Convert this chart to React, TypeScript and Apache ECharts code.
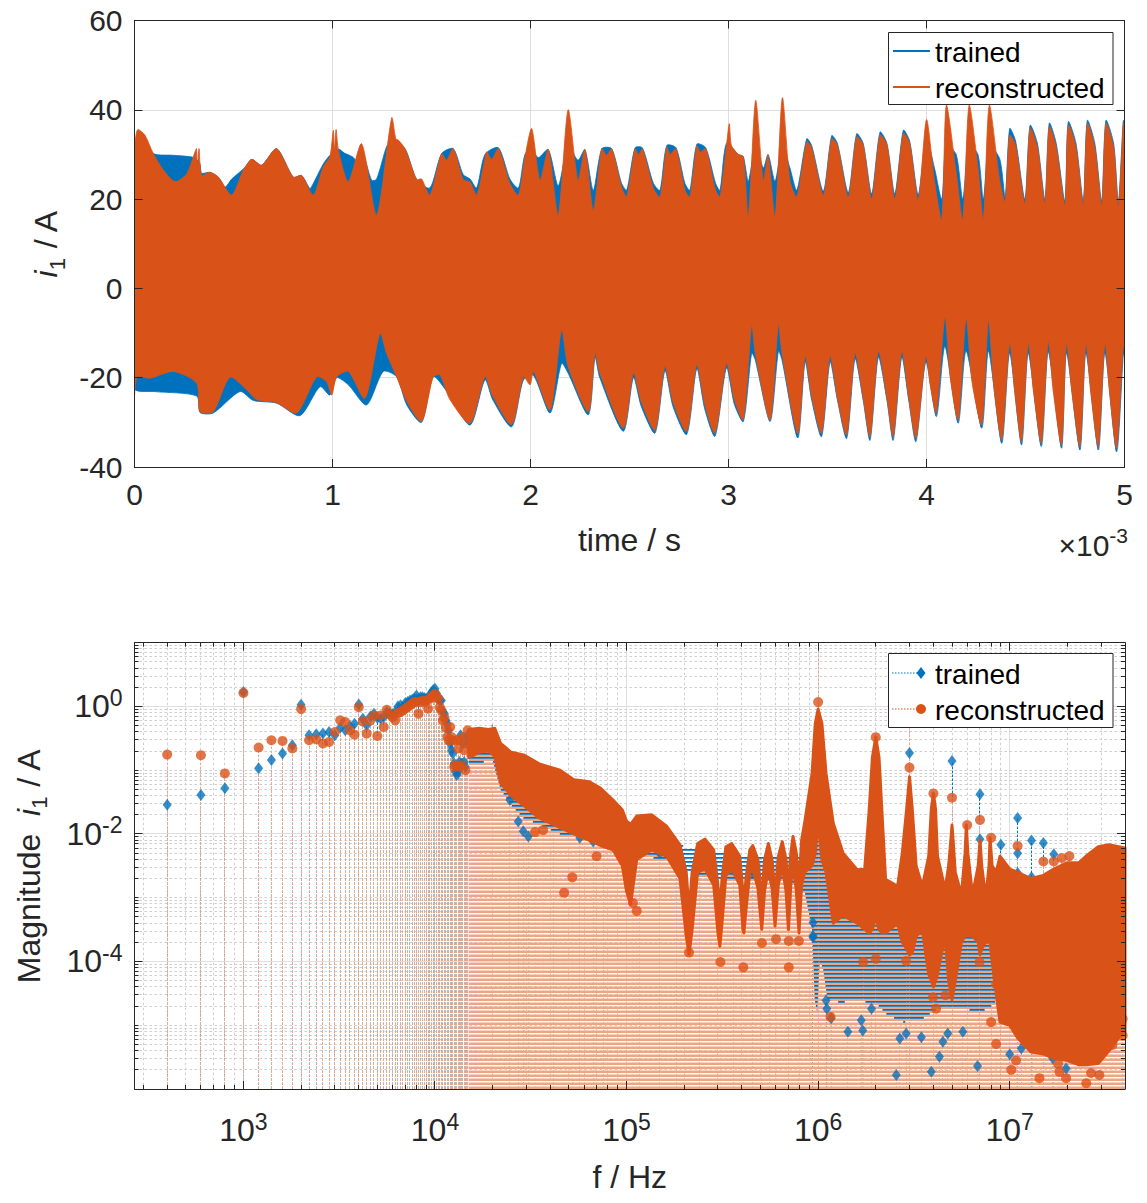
import React, { useEffect, useRef } from 'react';
import * as echarts from 'echarts';

const FONT = '"Liberation Sans", Arial, Helvetica, sans-serif';
const INK = '#262626';
const BLUE = '#0072BD';
const ORANGE = '#D95319';
const ORANGE_STEM = '#ECA686';
const GRID_MAJOR = '#DEDEDE';
const GRID_MINOR = '#CFCFCF';

// ---------------- top chart: time signal envelopes, [time in ms, current in A] ----------------
const timeTicksMs = [0, 1, 2, 3, 4, 5];
const currentTicks = [-40, -20, 0, 20, 40, 60];

const reconUpper = [
  [0.0, 30.9], [0.01, 35.0], [0.019, 35.6], [0.053, 34.3], [0.095, 30.2], [0.146, 26.5], [0.205, 23.9], [0.264, 25.7],
  [0.306, 30.6], [0.313, 31.3], [0.318, 27.0], [0.326, 31.3], [0.339, 25.3], [0.381, 26.0], [0.424, 24.9], [0.491, 20.9],
  [0.55, 26.5], [0.592, 28.9], [0.642, 27.6], [0.718, 31.3], [0.802, 24.9], [0.844, 25.3], [0.903, 20.9], [0.954, 27.3],
  [0.987, 29.5], [1.004, 35.4], [1.01, 31.0], [1.018, 35.6], [1.03, 30.9], [1.08, 23.9], [1.147, 32.4], [1.223, 16.4],
  [1.299, 38.2], [1.32, 33.5], [1.333, 33.2], [1.366, 31.3], [1.425, 24.4], [1.45, 24.5], [1.492, 20.9], [1.551, 30.2],
  [1.576, 28.7], [1.61, 31.3], [1.66, 24.4], [1.695, 23.8], [1.728, 20.9], [1.77, 29.0], [1.779, 30.6], [1.804, 28.9],
  [1.838, 31.3], [1.896, 23.5], [1.939, 20.9], [1.972, 29.4], [2.006, 35.8], [2.048, 24.2], [2.09, 31.1], [2.14, 16.4],
  [2.19, 40.0], [2.24, 24.2], [2.275, 31.1], [2.317, 17.5], [2.36, 31.3], [2.384, 29.8], [2.41, 31.3], [2.46, 22.7],
  [2.486, 20.5], [2.528, 31.3], [2.545, 29.9], [2.565, 31.3], [2.621, 22.4], [2.654, 20.5], [2.688, 31.7], [2.705, 30.0],
  [2.735, 31.3], [2.78, 22.0], [2.805, 20.5], [2.84, 32.0], [2.858, 30.5], [2.885, 31.3], [2.935, 22.0], [2.957, 20.5],
  [2.99, 32.0], [3.004, 36.9], [3.015, 32.0], [3.05, 30.0], [3.075, 29.5], [3.1, 16.0], [3.137, 42.1], [3.176, 24.2],
  [3.2, 29.8], [3.235, 16.0], [3.272, 42.7], [3.31, 24.2], [3.345, 20.5], [3.395, 32.8], [3.42, 31.5], [3.479, 20.9],
  [3.521, 33.5], [3.55, 32.0], [3.605, 20.5], [3.647, 33.9], [3.68, 32.2], [3.723, 20.1], [3.765, 34.3], [3.8, 32.2],
  [3.84, 20.1], [3.883, 34.7], [3.915, 32.5], [3.958, 19.8], [4.0, 37.8], [4.04, 24.2], [4.077, 15.3], [4.1, 41.0],
  [4.15, 26.0], [4.183, 15.3], [4.215, 41.0], [4.26, 27.0], [4.287, 15.3], [4.317, 41.0], [4.37, 24.2], [4.397, 19.4],
  [4.42, 34.3], [4.45, 32.0], [4.497, 19.0], [4.523, 35.8], [4.56, 31.6], [4.598, 19.0], [4.62, 36.2], [4.655, 31.6],
  [4.699, 18.6], [4.716, 36.5], [4.755, 31.6], [4.792, 18.6], [4.812, 36.9], [4.85, 31.6], [4.885, 18.6], [4.906, 36.9],
  [4.945, 31.6], [4.969, 18.3], [4.994, 36.9], [5.0, 36.0],
];

const reconLower = [
  [0.0, -23.9], [0.014, -19.8], [0.078, -20.1], [0.196, -18.6], [0.314, -21.2], [0.331, -27.6], [0.398, -27.6],
  [0.482, -19.9], [0.567, -22.7], [0.617, -24.9], [0.718, -25.6], [0.819, -27.9], [0.92, -19.8], [0.97, -20.9],
  [0.996, -23.9], [1.021, -19.8], [1.08, -18.6], [1.164, -24.6], [1.24, -10.1], [1.273, -14.5], [1.324, -19.8],
  [1.375, -25.3], [1.45, -29.8], [1.509, -19.8], [1.543, -19.4], [1.593, -24.9], [1.695, -30.2], [1.77, -19.8],
  [1.81, -24.2], [1.905, -30.5], [1.964, -19.8], [1.998, -21.6], [2.015, -18.6], [2.099, -27.2], [2.157, -9.3],
  [2.19, -17.5], [2.292, -27.6], [2.326, -14.5], [2.35, -19.0], [2.469, -31.3], [2.52, -19.0], [2.56, -25.5],
  [2.629, -31.7], [2.679, -17.5], [2.72, -25.5], [2.789, -32.0], [2.84, -17.1], [2.88, -26.0], [2.932, -32.4],
  [2.99, -16.8], [3.03, -25.0], [3.075, -29.4], [3.117, -8.2], [3.135, -14.5], [3.21, -29.4], [3.252, -7.9],
  [3.27, -14.5], [3.35, -32.5], [3.387, -15.2], [3.42, -24.2], [3.47, -32.4], [3.513, -15.2], [3.55, -24.5],
  [3.597, -32.8], [3.639, -14.5], [3.68, -24.5], [3.715, -33.2], [3.757, -14.1], [3.8, -24.5], [3.832, -33.2],
  [3.875, -14.1], [3.91, -24.5], [3.947, -33.5], [3.997, -15.2], [4.02, -22.0], [4.05, -27.9], [4.093, -6.4],
  [4.12, -20.0], [4.16, -29.4], [4.2, -6.7], [4.23, -21.0], [4.279, -30.5], [4.313, -7.1], [4.34, -22.0],
  [4.38, -33.9], [4.42, -12.3], [4.445, -23.0], [4.48, -34.3], [4.514, -12.3], [4.54, -23.0], [4.58, -34.6],
  [4.615, -11.9], [4.64, -23.0], [4.682, -35.0], [4.707, -12.3], [4.735, -23.5], [4.775, -35.4], [4.805, -12.3],
  [4.83, -23.5], [4.868, -35.4], [4.901, -12.3], [4.925, -23.5], [4.96, -35.8], [4.994, -12.6], [5.0, -14.0],
];

const trainedUpper = [
  [0.0, 30.0], [0.019, 35.0], [0.053, 33.5], [0.095, 30.2], [0.2, 29.8], [0.3, 29.3], [0.33, 28.0], [0.339, 25.8],
  [0.381, 26.0], [0.424, 24.9], [0.457, 22.7], [0.491, 24.5], [0.558, 27.1], [0.592, 28.9], [0.642, 27.6], [0.718, 31.3],
  [0.802, 24.9], [0.844, 25.3], [0.886, 22.4], [0.903, 23.5], [0.954, 27.9], [0.987, 29.8], [1.03, 31.2], [1.06, 30.3],
  [1.1, 29.5], [1.122, 28.7], [1.147, 31.0], [1.198, 24.2], [1.223, 24.5], [1.273, 31.7], [1.299, 33.0], [1.366, 31.3],
  [1.425, 24.4], [1.492, 22.5], [1.551, 30.2], [1.61, 31.3], [1.66, 25.5], [1.695, 24.5], [1.728, 22.5], [1.77, 30.0],
  [1.838, 31.5], [1.896, 24.5], [1.939, 22.5], [1.972, 30.0], [2.006, 31.0], [2.04, 29.3], [2.09, 31.1], [2.14, 23.0],
  [2.19, 32.0], [2.24, 28.7], [2.275, 31.1], [2.317, 22.0], [2.36, 31.3], [2.41, 31.3], [2.46, 23.5], [2.486, 22.0],
  [2.528, 31.5], [2.565, 31.5], [2.621, 23.5], [2.654, 22.0], [2.688, 32.0], [2.735, 31.5], [2.78, 23.5], [2.805, 22.0],
  [2.84, 32.3], [2.885, 31.5], [2.935, 23.5], [2.957, 22.0], [2.99, 32.5], [3.05, 30.0], [3.075, 29.5], [3.1, 24.0],
  [3.137, 32.0], [3.176, 27.0], [3.2, 30.0], [3.235, 24.0], [3.272, 32.0], [3.31, 27.0], [3.345, 22.0], [3.395, 33.5],
  [3.42, 32.0], [3.479, 21.8], [3.521, 34.2], [3.55, 32.5], [3.605, 21.5], [3.647, 34.6], [3.68, 32.5], [3.723, 21.2],
  [3.765, 35.0], [3.8, 32.5], [3.84, 21.2], [3.883, 35.4], [3.915, 33.0], [3.958, 21.0], [4.0, 33.5], [4.04, 27.0],
  [4.077, 20.0], [4.1, 32.0], [4.15, 30.0], [4.183, 20.0], [4.215, 32.0], [4.26, 30.0], [4.287, 20.0], [4.317, 32.0],
  [4.37, 29.0], [4.397, 20.5], [4.42, 35.8], [4.45, 33.0], [4.497, 20.0], [4.523, 36.5], [4.56, 32.5], [4.598, 20.0],
  [4.62, 37.0], [4.655, 32.5], [4.699, 19.6], [4.716, 37.3], [4.755, 32.5], [4.792, 19.6], [4.812, 37.6], [4.85, 32.5],
  [4.885, 19.6], [4.906, 37.6], [4.945, 32.5], [4.969, 19.4], [4.994, 37.6], [5.0, 37.0],
];

const trainedLower = [
  [0.0, -22.4], [0.1, -23.1], [0.314, -24.1], [0.331, -27.8], [0.398, -27.9], [0.533, -23.1], [0.6, -25.1],
  [0.718, -25.7], [0.836, -28.5], [0.937, -22.0], [0.987, -23.9], [1.021, -20.0], [1.08, -21.6], [1.172, -26.1],
  [1.257, -18.6], [1.324, -19.8], [1.375, -26.1], [1.45, -30.0], [1.509, -19.8], [1.576, -23.0], [1.695, -30.6],
  [1.77, -20.5], [1.81, -25.0], [1.905, -31.0], [1.964, -20.5], [2.015, -19.5], [2.099, -27.9], [2.157, -16.8],
  [2.19, -19.0], [2.292, -28.3], [2.326, -15.5], [2.35, -20.0], [2.469, -32.0], [2.52, -20.0], [2.56, -26.5],
  [2.629, -32.4], [2.679, -18.5], [2.72, -26.5], [2.789, -32.7], [2.84, -18.0], [2.88, -27.0], [2.932, -33.1],
  [2.99, -17.8], [3.03, -26.0], [3.075, -29.8], [3.117, -14.5], [3.135, -16.0], [3.21, -29.8], [3.252, -14.1],
  [3.27, -16.0], [3.35, -33.5], [3.387, -16.5], [3.42, -25.0], [3.47, -33.2], [3.513, -16.5], [3.55, -25.0],
  [3.597, -33.6], [3.639, -15.8], [3.68, -25.0], [3.715, -34.0], [3.757, -15.4], [3.8, -25.0], [3.832, -34.0],
  [3.875, -15.4], [3.91, -25.0], [3.947, -34.3], [3.997, -16.5], [4.05, -28.7], [4.093, -13.0], [4.16, -30.2],
  [4.2, -14.0], [4.279, -31.3], [4.313, -14.0], [4.38, -34.7], [4.42, -14.5], [4.48, -35.1], [4.514, -14.5],
  [4.58, -35.4], [4.615, -14.2], [4.682, -35.8], [4.707, -14.5], [4.775, -36.2], [4.805, -14.5], [4.868, -36.2],
  [4.901, -14.5], [4.96, -36.6], [4.994, -14.8], [5.0, -15.0],
];

// ---------------- bottom chart: spectrum, [f in Hz, magnitude in A] ----------------
const freqDecades = [1e3, 1e4, 1e5, 1e6, 1e7];
const magLabelDecades = [1e-4, 1e-2, 1];

const trainedPoints = [
  [400, 0.0286], [600, 0.041], [800, 0.052], [1000, 1.68], [1200, 0.107], [1400, 0.144], [1600, 0.183], [1800, 0.246],
  [2000, 1.06], [2200, 0.353], [2400, 0.366], [2600, 0.375], [2800, 0.398], [3000, 0.353], [3200, 0.465], [3400, 0.422],
  [3600, 0.488], [3800, 0.537], [4000, 1.075], [4200, 0.642], [4400, 0.505], [4600, 0.698], [4800, 0.768], [5000, 0.666],
  [5200, 0.642], [5400, 0.682], [5600, 0.816], [5800, 0.768], [6000, 0.75], [6200, 0.816], [6400, 1.0], [6600, 1.04],
  [6800, 0.976], [7000, 1.13], [7200, 1.17], [7400, 1.24], [7600, 1.27], [7800, 1.32], [8000, 1.48], [8200, 1.32],
  [8400, 1.4], [8600, 1.4], [8800, 1.36], [9000, 1.32], [9200, 1.32], [9400, 1.48], [9600, 1.67], [9800, 1.82],
  [10000, 1.89], [10200, 1.58], [10400, 1.32], [10600, 1.24], [10800, 1.24], [11000, 0.816], [11200, 0.768],
  [11400, 0.605], [11600, 0.537], [11800, 0.422], [12000, 0.262], [12200, 0.206], [12400, 0.183], [12600, 0.1275],
  [12800, 0.0945], [13000, 0.0839], [13200, 0.0945], [13400, 0.135], [13600, 0.353], [13800, 0.1275], [14000, 0.262],
  [14200, 0.135], [14400, 0.113], [14600, 0.295], [14800, 0.353],
];

const reconPoints = [
  [400, 0.176], [600, 0.172], [800, 0.089], [1000, 1.63], [1200, 0.227], [1400, 0.295], [1600, 0.288], [1800, 0.219],
  [2000, 0.909], [2200, 0.295], [2400, 0.305], [2600, 0.262], [2800, 0.278], [3000, 0.398], [3200, 0.605], [3400, 0.57],
  [3600, 0.422], [3800, 0.361], [4000, 0.976], [4200, 0.583], [4400, 0.375], [4600, 0.605], [4800, 0.724], [5000, 0.344],
  [5200, 0.724], [5400, 0.476], [5600, 0.887], [5800, 0.75], [6000, 0.682], [6200, 0.605], [6400, 0.787], [6600, 0.816],
  [6800, 0.866], [7000, 0.92], [7200, 0.976], [7400, 1.04], [7600, 1.1], [7800, 1.17], [8000, 1.17], [8200, 0.768],
  [8400, 1.17], [8600, 1.24], [8800, 1.17], [9000, 1.24], [9200, 0.92], [9400, 1.32], [9600, 1.4], [9800, 1.48],
  [10000, 1.58], [10200, 1.4], [10400, 1.32], [10600, 0.976], [10800, 0.866], [11000, 0.605], [11200, 0.666],
  [11400, 0.465], [11600, 0.332], [11800, 0.295], [12000, 0.476], [12200, 0.332], [12400, 0.295], [12600, 0.113],
  [12800, 0.12], [13000, 0.295], [13200, 0.219], [13400, 0.113], [13600, 0.295], [13800, 0.12], [14000, 0.332],
  [14200, 0.206], [14400, 0.1], [14600, 0.262], [14800, 0.422],
];

// dense spectral clouds: [f, upper magnitude, lower magnitude]
const reconCloud = [
  [1.5e4, 0.437, 0.158], [1.7e4, 0.457, 0.191], [1.9e4, 0.437, 0.2], [2.05e4, 0.457, 0.166], [2.2e4, 0.263, 0.063],
  [2.5e4, 0.191, 0.0398], [2.9e4, 0.174, 0.0282], [3.5e4, 0.126, 0.0178], [4.5e4, 0.1, 0.0126], [5.3e4, 0.0708, 0.01],
  [6.4e4, 0.0661, 0.00794], [7.3e4, 0.0525, 0.0066], [8.5e4, 0.0339, 0.00562], [9.5e4, 0.024, 0.00316],
  [1.0e5, 0.0158, 0.00126], [1.05e5, 0.0141, 7.9e-4], [1.13e5, 0.0191, 0.00398], [1.35e5, 0.02, 0.00562],
  [1.62e5, 0.0132, 0.00447], [1.9e5, 0.00676, 0.002], [2.05e5, 0.00251, 2.5e-4], [2.12e5, 6.3e-4, 1.29e-4],
  [2.2e5, 0.00251, 3.16e-4], [2.35e5, 0.00708, 0.00251], [2.57e5, 0.00832, 0.00282], [2.85e5, 0.00562, 0.00158],
  [3.0e5, 0.00158, 2.8e-4], [3.07e5, 6.3e-4, 1.74e-4], [3.15e5, 0.002, 3.98e-4], [3.3e5, 0.00631, 0.00224],
  [3.54e5, 0.00708, 0.00282], [3.9e5, 0.00447, 0.00158], [4.05e5, 0.00126, 3.16e-4], [4.1e5, 7.9e-4, 2.8e-4],
  [4.2e5, 0.002, 6.3e-4], [4.4e5, 0.00562, 0.00251], [4.56e5, 0.0066, 0.00282], [4.85e5, 0.00398, 0.00141],
  [5.08e5, 0.001, 3.2e-4], [5.25e5, 0.00398, 0.00126], [5.5e5, 0.00708, 0.00282], [5.75e5, 0.00398, 0.00141],
  [5.96e5, 0.00112, 3.6e-4], [6.2e5, 0.00447, 0.00158], [6.5e5, 0.00759, 0.00316], [6.8e5, 0.00398, 0.00126],
  [7.0e5, 0.00126, 3.16e-4], [7.2e5, 0.00501, 0.00158], [7.4e5, 0.00912, 0.00355], [7.7e5, 0.00501, 0.00126],
  [7.95e5, 0.00158, 2.8e-4], [8.2e5, 0.00794, 0.00158], [8.5e5, 0.0148, 0.0025], [9.3e5, 0.089, 0.0032],
  [9.66e5, 0.537, 0.005], [1.0e6, 0.912, 0.0158], [1.047e6, 0.537, 0.004], [1.1e6, 0.089, 0.0025],
  [1.2e6, 0.0148, 4.0e-4], [1.35e6, 0.005, 5.25e-4], [1.6e6, 0.00275, 4.0e-4], [1.75e6, 0.0028, 3.2e-4],
  [1.85e6, 0.025, 2.8e-4], [1.92e6, 0.158, 3.2e-4], [2.0e6, 0.331, 5.0e-4], [2.08e6, 0.158, 3.2e-4],
  [2.15e6, 0.025, 2.8e-4], [2.25e6, 0.00195, 2.8e-4], [2.6e6, 0.00151, 4.0e-4], [2.75e6, 0.005, 2.0e-4],
  [2.9e6, 0.025, 1.58e-4], [3.0e6, 0.079, 1.26e-4], [3.1e6, 0.025, 1.38e-4], [3.25e6, 0.00316, 2.5e-4],
  [3.5e6, 0.00151, 3.16e-4], [3.78e6, 0.0045, 6.3e-5], [3.9e6, 0.025, 5.0e-5], [4.0e6, 0.0437, 3.98e-5],
  [4.1e6, 0.025, 5.0e-5], [4.2e6, 0.0045, 6.3e-5], [4.6e6, 0.00135, 2.5e-4], [4.8e6, 0.00316, 5.0e-5],
  [4.93e6, 0.0079, 3.2e-5], [5.0e6, 0.0138, 2.5e-5], [5.07e6, 0.0079, 3.2e-5], [5.2e6, 0.0025, 5.0e-5],
  [5.6e6, 0.00112, 2.0e-4], [5.85e6, 0.005, 2.5e-4], [5.94e6, 0.0138, 3.16e-4], [6.05e6, 0.005, 2.5e-4],
  [6.4e6, 0.00112, 2.5e-4], [6.85e6, 0.00316, 2.0e-4], [7.0e6, 0.0081, 1.26e-4], [7.15e6, 0.00316, 1.58e-4],
  [7.5e6, 0.001, 2.0e-4], [7.8e6, 0.00316, 2.0e-4], [7.9e6, 0.0087, 2.0e-4], [8.1e6, 0.00316, 1.0e-4],
  [8.5e6, 0.0025, 3.16e-5], [8.9e6, 0.00447, 1.12e-5], [1.0e7, 0.00282, 1.0e-5], [1.1e7, 0.00251, 6.3e-6],
  [1.29e7, 0.002, 3.8e-6], [1.5e7, 0.00224, 3.55e-6], [1.7e7, 0.00282, 3.0e-6], [2.0e7, 0.00355, 2.8e-6],
  [2.3e7, 0.00355, 2.4e-6], [2.5e7, 0.00447, 2.4e-6], [2.9e7, 0.00631, 2.5e-6], [3.3e7, 0.00676, 3.98e-6],
  [3.7e7, 0.00631, 6.3e-6], [4.0e7, 0.00603, 7.9e-6],
];

const trainedCloud = [
  [1.5e4, 0.398, 0.126], [2.0e4, 0.501, 0.141], [2.2e4, 0.251, 0.0501], [2.5e4, 0.178, 0.0282], [2.9e4, 0.141, 0.0178],
  [3.5e4, 0.1, 0.0141], [4.5e4, 0.0794, 0.01], [6.0e4, 0.0562, 0.00891], [8.0e4, 0.0398, 0.00708], [1.0e5, 0.0158, 0.00501],
  [1.2e5, 0.0141, 0.00447], [1.6e5, 0.0112, 0.00398], [2.0e5, 0.00631, 0.00282], [2.5e5, 0.00562, 0.00224],
  [3.5e5, 0.00501, 0.0019], [5.0e5, 0.00447, 0.00178], [7.0e5, 0.00447, 0.00178], [8.5e5, 0.00501, 0.00126],
  [9.3e5, 0.01, 3.16e-4], [9.6e5, 0.01, 2.5e-5], [9.9e5, 0.0316, 1.58e-5], [1.02e6, 0.0316, 1.0e-4],
  [1.06e6, 0.00501, 7.9e-5], [1.12e6, 0.00158, 2.5e-5], [1.3e6, 6.3e-4, 2.3e-5], [1.6e6, 5.0e-4, 2.4e-5],
  [2.0e6, 5.0e-4, 2.24e-5], [2.3e6, 5.0e-4, 1.45e-5], [2.8e6, 5.0e-4, 1.12e-5], [3.5e6, 3.98e-4, 1.26e-5],
  [4.2e6, 3.98e-4, 1.82e-5], [5.0e6, 3.98e-4, 2.0e-5], [6.0e6, 3.16e-4, 1.78e-5], [7.0e6, 3.16e-4, 1.58e-5],
  [8.0e6, 3.16e-4, 2.0e-5], [8.6e6, 2.5e-4, 2.5e-5],
];

const trainedOutliers = [
  [2.46e4, 0.0341], [2.72e4, 0.0157], [2.89e4, 0.011], [3.07e4, 0.00912], [4.14e4, 0.0166], [5.7e4, 0.0087],
  [6.7e4, 0.0076], [7.55e4, 0.0102], [1.17e5, 0.0081], [1.49e5, 0.005], [1.82e5, 0.0042], [2.41e5, 0.004],
  [3.6e5, 0.00275], [4.57e5, 0.00245], [5.6e5, 0.00219], [9.4e5, 2.5e-4], [9.4e5, 4.07e-4], [9.4e5, 2.4e-4],
  [1.1e6, 2.45e-5], [1.11e6, 1.82e-5], [1.17e6, 1.29e-5], [1.43e6, 7.9e-6], [1.71e6, 8.3e-6], [1.68e6, 1.2e-5],
  [1.9e6, 1.82e-5], [2.56e6, 1.66e-6], [2.67e6, 6.2e-6], [2.88e6, 7.4e-6], [3.46e6, 6.5e-6], [3.9e6, 1.86e-6],
  [4.3e6, 3.2e-6], [4.48e6, 5.5e-6], [4.75e6, 7.4e-6], [5.7e6, 7.9e-6], [6.8e6, 2.3e-6], [1.0e7, 3.5e-6],
  [1.15e7, 4.3e-6], [1.32e7, 6.9e-6], [1.68e7, 3.0e-6], [1.97e7, 2.1e-6],
  [3.0e6, 0.187], [5.0e6, 0.14], [7.0e6, 0.042], [7.0e6, 0.0083], [9.0e6, 0.0068], [1.1e7, 0.0178], [1.1e7, 0.005],
  [1.1e7, 0.00245], [1.3e7, 0.0079], [1.3e7, 0.0021], [1.5e7, 0.0072], [1.7e7, 0.0048],
];

const reconOutliers = [
  [3.33e4, 0.0107], [3.67e4, 0.0115], [4.72e4, 0.0012], [5.21e4, 0.00209], [6.05e4, 0.0098], [6.97e4, 0.00447],
  [1.08e5, 8.3e-4], [1.13e5, 6.2e-4], [2.12e5, 1.38e-4], [3.09e5, 9.8e-5], [4.07e5, 8.1e-5], [5.09e5, 1.95e-4],
  [6.03e5, 2.24e-4], [7.03e5, 8.1e-5], [7.03e5, 2.1e-4], [7.94e5, 2.1e-4],
  [1.0e6, 1.17], [1.0e6, 20], [2.0e6, 0.33], [3.0e6, 0.11], [3.0e6, 0.55], [4.0e6, 0.043], [5.0e6, 0.037],
  [6.0e6, 0.0138], [7.0e6, 0.0166], [8.0e6, 0.0087], [1.1e7, 0.0065], [1.5e7, 0.0037], [1.7e7, 0.0037],
  [1.87e7, 0.0042], [2.05e7, 0.0045],
  [1.16e6, 1.35e-5], [1.72e6, 9.8e-5], [2.0e6, 1.1e-4], [2.88e6, 1.02e-4], [3.98e6, 2.75e-5], [4.13e6, 1.82e-5],
  [4.62e6, 2.95e-5], [6.97e6, 9.8e-5], [8.0e6, 1.12e-5], [8.5e6, 5.1e-6], [8.5e6, 4.4e-5], [1.02e7, 2.0e-6],
  [1.08e7, 2.8e-6], [1.43e7, 1.48e-6], [1.79e7, 2.5e-6], [1.82e7, 1.86e-6], [1.97e7, 1.48e-6], [2.51e7, 1.23e-6],
  [2.66e7, 1.78e-6], [2.94e7, 1.66e-6], [3.44e7, 4.9e-6], [3.89e7, 6.9e-6], [3.89e7, 1.26e-5],
];

// ---------------- helpers ----------------
const F_MIN = 270;
const F_MAX = 4e7;
const M_MIN = 1e-6;
const M_MAX = 10;

function logTicks(lo: number, hi: number) {
  const major: number[] = [];
  const minor: number[] = [];
  for (let e = Math.floor(Math.log10(lo)); e <= Math.ceil(Math.log10(hi)); e++) {
    for (let k = 1; k <= 9; k++) {
      const v = k * Math.pow(10, e);
      if (v <= lo * 1.0001 || v >= hi * 0.9999) continue;
      if (k === 1) major.push(v); else minor.push(v);
    }
  }
  return { major, minor };
}

const crisp = (v: number) => Math.round(v - 0.5) + 0.5;

function coverAt(pts: any[], y: number) {
  const res: number[][] = [];
  let cur: number[] | null = null;
  for (let i = 0; i < pts.length - 1; i++) {
    const a = pts[i], b = pts[i + 1];
    let s0 = 0, s1 = 1;
    const du = b.u - a.u;
    if (Math.abs(du) < 1e-9) { if (a.u > y) continue; }
    else { const s = (y - a.u) / du; if (du > 0) s1 = Math.min(s1, s); else s0 = Math.max(s0, s); }
    const dl = b.l - a.l;
    if (Math.abs(dl) < 1e-9) { if (a.l < y) continue; }
    else { const s = (y - a.l) / dl; if (dl > 0) s0 = Math.max(s0, s); else s1 = Math.min(s1, s); }
    if (s1 <= s0) continue;
    const x0 = a.x + (b.x - a.x) * s0, x1 = a.x + (b.x - a.x) * s1;
    if (cur && x0 - cur[1] < 0.05) cur[1] = x1; else { cur = [x0, x1]; res.push(cur); }
  }
  return res;
}

function stripes(pts: any[], bottom: number, top: number, offset: number, h: number, period: number, color: string) {
  const out: any[] = [];
  for (let yS = bottom - offset; yS - h > top; yS -= period) {
    const segs = coverAt(pts, yS - h / 2);
    for (const [x0, x1] of segs) {
      out.push({ type: 'rect', shape: { x: x0, y: yS - h, width: x1 - x0, height: h }, style: { fill: color } });
    }
  }
  return out;
}

function App() {
  const ref = useRef<HTMLDivElement>(null);
  useEffect(() => {
    if (!ref.current) return;
    const chart = echarts.init(ref.current, null, { renderer: 'svg', width: 1147, height: 1203 });

    const tickText = { fontSize: 30, fontFamily: FONT, color: INK };
    const lineAx = { show: true, onZero: false, lineStyle: { color: INK, width: 1 } };
    const noAx = { show: false };

    const xT = { min: timeTicksMs[0] * 1e-3, max: timeTicksMs[timeTicksMs.length - 1] * 1e-3, interval: 1e-3 };
    const yT = { min: currentTicks[0], max: currentTicks[currentTicks.length - 1], interval: 20 };

    const powRich = {
      b: { fontSize: 32, fontFamily: FONT, color: INK, lineHeight: 40 },
      s: { fontSize: 23, fontFamily: FONT, color: INK, lineHeight: 19, verticalAlign: 'top' },
    };
    const isPow = (v: number, list: number[]) => list.some((p) => Math.abs(Math.log10(v) - Math.log10(p)) < 1e-6);

    const nameRich = {
      t: { fontSize: 32, fontFamily: FONT, color: INK, lineHeight: 44 },
      it: { fontSize: 32, fontFamily: FONT, color: INK, fontStyle: 'italic', lineHeight: 44 },
      sub: { fontSize: 22, fontFamily: FONT, color: INK, lineHeight: 6, verticalAlign: 'bottom' },
    };

    const xLog = logTicks(F_MIN, F_MAX);
    const yLog = logTicks(M_MIN, M_MAX);

    const gridAndTicks = (drawTicks: boolean) => (params: any, api: any) => {
      const cs = params.coordSys;
      const L = cs.x, T = cs.y, R = cs.x + cs.width, B = cs.y + cs.height;
      const ch: any[] = [];
      const xs = [...xLog.minor.map((v) => [v, false]), ...freqDecades.map((v) => [v, true])];
      const ys = [...yLog.minor.map((v) => [v, false]), ...yLog.major.map((v) => [v, isPow(v, magLabelDecades)])];
      for (const [v, maj] of xs as any) {
        const x = crisp(api.coord([v, 1])[0]);
        if (drawTicks) {
          const len = maj ? 8 : 4;
          ch.push({ type: 'line', shape: { x1: x, y1: B, x2: x, y2: B - len }, style: { stroke: INK, lineWidth: 1 } });
          ch.push({ type: 'line', shape: { x1: x, y1: T, x2: x, y2: T + len }, style: { stroke: INK, lineWidth: 1 } });
        } else {
          ch.push({ type: 'line', shape: { x1: x, y1: T, x2: x, y2: B },
            style: maj ? { stroke: GRID_MAJOR, lineWidth: 1 } : { stroke: GRID_MINOR, lineWidth: 1, lineDash: [2.5, 2.5] } });
        }
      }
      for (const [v, maj] of ys as any) {
        const y = crisp(api.coord([1000, v])[1]);
        if (drawTicks) {
          const len = maj ? 8 : 4;
          ch.push({ type: 'line', shape: { x1: L, y1: y, x2: L + len, y2: y }, style: { stroke: INK, lineWidth: 1 } });
          ch.push({ type: 'line', shape: { x1: R, y1: y, x2: R - len, y2: y }, style: { stroke: INK, lineWidth: 1 } });
        } else {
          ch.push({ type: 'line', shape: { x1: L, y1: y, x2: R, y2: y },
            style: maj ? { stroke: GRID_MAJOR, lineWidth: 1 } : { stroke: GRID_MINOR, lineWidth: 1, lineDash: [2.5, 2.5] } });
        }
      }
      return { type: 'group', children: ch };
    };

    const timeBand = (upper: number[][], lower: number[][], color: string, z: number) => ({
      type: 'custom', xAxisIndex: 0, yAxisIndex: 0, z, silent: true, data: [[0, 0]],
      renderItem: (params: any, api: any) => {
        const cs = params.coordSys;
        const up = upper.map(([t, v]) => api.coord([t * 1e-3, v]));
        const lo = lower.map(([t, v]) => api.coord([t * 1e-3, v])).reverse();
        return {
          type: 'polygon',
          shape: {
            points: [...up, ...lo], smooth: 0.25,
            smoothConstraint: [[cs.x, cs.y], [cs.x + cs.width, cs.y + cs.height]],
          },
          style: { fill: color, stroke: color, lineWidth: 0.8 },
        };
      },
    });

    const specBase = { type: 'custom', xAxisIndex: 3, yAxisIndex: 3, silent: true };

    const hatch = (cloud: number[][], toBottom: boolean, color: string, offset: number, h: number, z: number) => ({
      ...specBase, z, data: [[1000, 1]],
      renderItem: (params: any, api: any) => {
        const cs = params.coordSys;
        const B = cs.y + cs.height;
        const pts = cloud.map(([f, up, lo]) => ({
          x: api.coord([f, up])[0],
          u: Math.max(api.coord([f, up])[1], cs.y),
          l: toBottom ? B : Math.min(api.coord([f, lo])[1], B),
        }));
        return { type: 'group', children: stripes(pts, B, cs.y, offset, h, 4, color) };
      },
    });

    const stems = (points: number[][], color: string, z: number) => ({
      ...specBase, z, data: points,
      renderItem: (params: any, api: any) => {
        const cs = params.coordSys;
        const p = api.coord([api.value(0), api.value(1)]);
        const B = cs.y + cs.height;
        const x = crisp(p[0]);
        return { type: 'line', shape: { x1: x, y1: B, x2: x, y2: Math.max(p[1], cs.y) },
          style: { stroke: color, lineWidth: 1, lineDash: [2.4, 1.6] } };
      },
    });

    const cloudPoly = (cloud: number[][], color: string, z: number) => ({
      ...specBase, z, data: [[1000, 1]],
      renderItem: (params: any, api: any) => {
        const pts: number[][] = [];
        cloud.forEach(([f, up]) => pts.push(api.coord([f, up])));
        for (let i = cloud.length - 1; i >= 0; i--) pts.push(api.coord([cloud[i][0], cloud[i][2]]));
        return { type: 'polygon', shape: { points: pts }, style: { fill: color, stroke: color, lineWidth: 3, lineJoin: 'round' } };
      },
    });

    const option: any = {
      animation: false,
      backgroundColor: '#ffffff',
      grid: [
        { left: 134.5, top: 20.5, width: 990, height: 446.5 },
        { left: 134.5, top: 642.7, width: 990.5, height: 446.3 },
      ],
      xAxis: [
        { type: 'value', gridIndex: 0, position: 'bottom', ...xT, z: 10, axisLine: lineAx,
          axisTick: { show: true, inside: true, length: 8, lineStyle: { color: INK } },
          axisLabel: { ...tickText, margin: 12, formatter: (v: number) => String(Math.round(v * 1000)) },
          splitLine: noAx, name: 'time / s', nameLocation: 'middle', nameGap: 57,
          nameTextStyle: { fontSize: 32, fontFamily: FONT, color: INK } },
        { type: 'value', gridIndex: 0, position: 'top', ...xT, z: 10, axisLine: lineAx,
          axisTick: { show: true, inside: true, length: 8, lineStyle: { color: INK } }, axisLabel: noAx, splitLine: noAx },
        { type: 'value', gridIndex: 0, position: 'bottom', ...xT, z: 0, axisLine: noAx, axisTick: noAx, axisLabel: noAx,
          splitLine: { show: true, lineStyle: { color: GRID_MAJOR, width: 1 } } },
        { type: 'log', logBase: 10, gridIndex: 1, position: 'bottom', min: F_MIN, max: F_MAX, z: 10, axisLine: lineAx,
          axisTick: noAx, splitLine: noAx,
          axisLabel: { margin: 21, rich: powRich, formatter: (v: number) => isPow(v, freqDecades) ? `{b|10}{s|${Math.round(Math.log10(v))}}` : '' },
          name: 'f / Hz', nameLocation: 'middle', nameGap: 72, nameTextStyle: { fontSize: 32, fontFamily: FONT, color: INK } },
        { type: 'log', logBase: 10, gridIndex: 1, position: 'top', min: F_MIN, max: F_MAX, z: 10, axisLine: lineAx,
          axisTick: noAx, axisLabel: noAx, splitLine: noAx },
      ],
      yAxis: [
        { type: 'value', gridIndex: 0, position: 'left', ...yT, z: 10, axisLine: lineAx,
          axisTick: { show: true, inside: true, length: 8, lineStyle: { color: INK } },
          axisLabel: { ...tickText, margin: 12 }, splitLine: noAx,
          name: '{it|i}{sub|1}{t| / A}', nameLocation: 'middle', nameGap: 64, nameRotate: 90,
          nameTextStyle: { rich: nameRich } },
        { type: 'value', gridIndex: 0, position: 'right', ...yT, z: 10, axisLine: lineAx,
          axisTick: { show: true, inside: true, length: 8, lineStyle: { color: INK } }, axisLabel: noAx, splitLine: noAx },
        { type: 'value', gridIndex: 0, position: 'left', ...yT, z: 0, axisLine: noAx, axisTick: noAx, axisLabel: noAx,
          splitLine: { show: true, lineStyle: { color: GRID_MAJOR, width: 1 } } },
        { type: 'log', logBase: 10, gridIndex: 1, position: 'left', min: M_MIN, max: M_MAX, z: 10, axisLine: lineAx,
          axisTick: noAx, splitLine: noAx,
          axisLabel: { margin: 12, rich: powRich, formatter: (v: number) => isPow(v, magLabelDecades) ? `{b|10}{s|${Math.round(Math.log10(v))}}` : '' },
          name: 'Magnitude  {it|i}{sub|1}{t| / A}', nameLocation: 'middle', nameGap: 84, nameRotate: 90,
          nameTextStyle: { fontSize: 32, fontFamily: FONT, color: INK, rich: nameRich } },
        { type: 'log', logBase: 10, gridIndex: 1, position: 'right', min: M_MIN, max: M_MAX, z: 10, axisLine: lineAx,
          axisTick: noAx, axisLabel: noAx, splitLine: noAx },
      ],
      series: [
        timeBand(trainedUpper, trainedLower, BLUE, 2),
        timeBand(reconUpper, reconLower, ORANGE, 3),
        { ...specBase, z: 1, data: [[1000, 1]], renderItem: gridAndTicks(false) },
        stems([...trainedPoints, ...trainedOutliers], BLUE, 2),
        hatch(reconCloud, true, ORANGE_STEM, 0, 2.4, 3),
        hatch(trainedCloud, false, BLUE, 2.2, 1.9, 4),
        stems([...reconPoints, ...reconOutliers], ORANGE_STEM, 5),
        { type: 'scatter', xAxisIndex: 3, yAxisIndex: 3, z: 6, silent: true, symbol: 'diamond', symbolSize: [9, 12],
          itemStyle: { color: BLUE }, data: [...trainedPoints, ...trainedOutliers] },
        cloudPoly(reconCloud, ORANGE, 7),
        { type: 'scatter', xAxisIndex: 3, yAxisIndex: 3, z: 8, silent: true, symbol: 'circle', symbolSize: 10,
          itemStyle: { color: ORANGE }, data: [...reconPoints, ...reconOutliers] },
        { ...specBase, z: 9, data: [[1000, 1]], renderItem: gridAndTicks(true) },
      ],
      graphic: [
        { type: 'text', right: 19, top: 525, z: 100,
          style: { text: '{b|×10}{s|-3}', rich: {
            b: { fontSize: 30, fontFamily: FONT, fill: INK, lineHeight: 40 },
            s: { fontSize: 21, fontFamily: FONT, fill: INK, lineHeight: 18, verticalAlign: 'top' } } } },
        // top legend
        { type: 'rect', z: 100, shape: { x: 888.5, y: 32.5, width: 224.5, height: 72 }, style: { fill: '#fff', stroke: INK, lineWidth: 1 } },
        { type: 'line', z: 101, shape: { x1: 893, y1: 51, x2: 930, y2: 51 }, style: { stroke: BLUE, lineWidth: 2 } },
        { type: 'text', z: 101, x: 935, y: 52, style: { text: 'trained', fontSize: 28, fontFamily: FONT, fill: '#000', verticalAlign: 'middle' } },
        { type: 'line', z: 101, shape: { x1: 893, y1: 87, x2: 930, y2: 87 }, style: { stroke: ORANGE, lineWidth: 2 } },
        { type: 'text', z: 101, x: 935, y: 88, style: { text: 'reconstructed', fontSize: 28, fontFamily: FONT, fill: '#000', verticalAlign: 'middle' } },
        // bottom legend
        { type: 'rect', z: 100, shape: { x: 888.5, y: 653.5, width: 224.5, height: 74 }, style: { fill: '#fff', stroke: INK, lineWidth: 1 } },
        { type: 'line', z: 101, shape: { x1: 892, y1: 673, x2: 918, y2: 673 }, style: { stroke: BLUE, lineWidth: 1, lineDash: [1.5, 1.5] } },
        { type: 'polygon', z: 102, shape: { points: [[921, 667], [925.5, 673], [921, 679], [916.5, 673]] }, style: { fill: BLUE } },
        { type: 'text', z: 101, x: 935, y: 674, style: { text: 'trained', fontSize: 28, fontFamily: FONT, fill: '#000', verticalAlign: 'middle' } },
        { type: 'line', z: 101, shape: { x1: 892, y1: 709, x2: 918, y2: 709 }, style: { stroke: ORANGE, lineWidth: 1, lineDash: [1.5, 1.5] } },
        { type: 'circle', z: 102, shape: { cx: 921, cy: 709, r: 5 }, style: { fill: ORANGE } },
        { type: 'text', z: 101, x: 935, y: 710, style: { text: 'reconstructed', fontSize: 28, fontFamily: FONT, fill: '#000', verticalAlign: 'middle' } },
      ],
    };

    chart.setOption(option);
    return () => chart.dispose();
  }, []);

  return <div ref={ref} style={{ position: 'absolute', left: 0, top: 0, width: 1147, height: 1203 }} />;
}

export default App;
